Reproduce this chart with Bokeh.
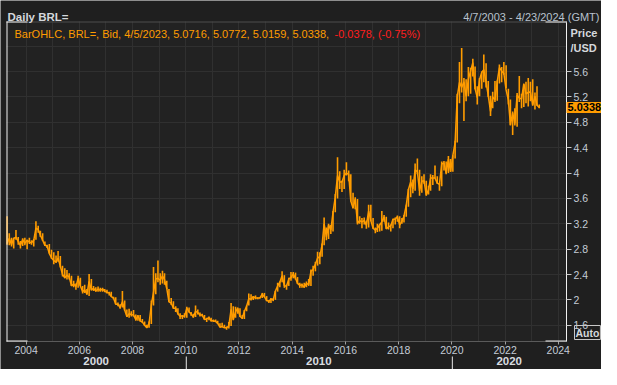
import numpy as np
import pandas as pd
from bokeh.plotting import figure
from bokeh.models import (Range1d, FixedTicker, DatetimeTickFormatter, Label, DatetimeAxis,
                          LinearAxis, BoxAnnotation, ColumnDataSource, CustomJSTickFormatter)
from bokeh.embed import file_html
from bokeh.resources import INLINE

# ---------------- data: monthly USD/BRL (Apr 2003 .. Apr 2023) ----------------
first_month = "2003-04-01"
month_high = [
    3.32, 3.05, 2.98, 2.98, 3.10, 2.99, 2.93, 2.97, 2.98,                      # 2003
    2.95, 2.98, 2.94, 2.96, 3.24, 3.17, 3.09, 3.05, 2.92, 2.87, 2.88, 2.79,    # 2004
    2.75, 2.70, 2.77, 2.69, 2.54, 2.50, 2.47, 2.42, 2.38, 2.30, 2.26, 2.38,    # 2005
    2.35, 2.22, 2.24, 2.17, 2.41, 2.33, 2.22, 2.20, 2.21, 2.19, 2.19, 2.17,    # 2006
    2.16, 2.13, 2.13, 2.05, 2.04, 1.96, 1.93, 2.14, 1.99, 1.85, 1.86, 1.82,    # 2007
    1.84, 1.77, 1.76, 1.76, 1.70, 1.66, 1.61, 1.66, 1.99, 2.52, 2.42, 2.62,    # 2008
    2.42, 2.46, 2.42, 2.30, 2.17, 2.03, 1.98, 1.90, 1.87, 1.79, 1.76, 1.79,    # 2009
    1.89, 1.88, 1.81, 1.78, 1.91, 1.85, 1.80, 1.78, 1.76, 1.72, 1.74, 1.72,    # 2010
    1.69, 1.69, 1.67, 1.63, 1.64, 1.61, 1.58, 1.65, 1.95, 1.90, 1.89, 1.88,    # 2011
    1.87, 1.76, 1.84, 1.91, 2.10, 2.09, 2.06, 2.07, 2.04, 2.04, 2.11, 2.11,    # 2012
    2.06, 1.99, 2.03, 2.03, 2.14, 2.27, 2.29, 2.45, 2.39, 2.24, 2.35, 2.44,    # 2013
    2.44, 2.43, 2.36, 2.27, 2.26, 2.27, 2.29, 2.33, 2.48, 2.54, 2.60, 2.76,    # 2014
    2.75, 2.89, 3.30, 3.14, 3.20, 3.18, 3.40, 3.67, 4.25, 4.03, 3.88, 4.05,    # 2015
    4.17, 4.04, 3.98, 3.69, 3.62, 3.59, 3.32, 3.29, 3.30, 3.25, 3.50, 3.50,    # 2016
    3.29, 3.14, 3.20, 3.20, 3.40, 3.34, 3.31, 3.22, 3.19, 3.28, 3.30, 3.33,    # 2017
    3.32, 3.29, 3.34, 3.50, 3.75, 3.96, 3.90, 4.15, 4.23, 4.05, 3.95, 3.98,    # 2018
    3.88, 3.80, 3.98, 3.97, 4.12, 3.95, 3.84, 4.18, 4.19, 4.18, 4.27, 4.22,    # 2019
    4.28, 4.51, 5.25, 5.75, 5.97, 5.50, 5.48, 5.67, 5.66, 5.80, 5.68, 5.37,    # 2020
    5.50, 5.60, 5.87, 5.73, 5.45, 5.22, 5.28, 5.45, 5.46, 5.71, 5.67, 5.75,    # 2021
    5.70, 5.33, 5.16, 4.97, 5.02, 5.26, 5.53, 5.25, 5.40, 5.44, 5.50, 5.44,    # 2022
    5.48, 5.27, 5.37, 5.08,                                                    # 2023
]
month_low = [
    2.87, 2.86, 2.84, 2.81, 2.95, 2.87, 2.81, 2.85, 2.86,
    2.80, 2.88, 2.87, 2.84, 2.95, 3.06, 2.99, 2.93, 2.85, 2.82, 2.73, 2.65,
    2.56, 2.58, 2.60, 2.51, 2.37, 2.34, 2.32, 2.32, 2.22, 2.20, 2.16, 2.19,
    2.22, 2.10, 2.11, 2.08, 2.06, 2.15, 2.14, 2.13, 2.13, 2.13, 2.13, 2.12,
    2.10, 2.07, 2.05, 2.01, 1.93, 1.90, 1.86, 1.88, 1.83, 1.73, 1.72, 1.74,
    1.74, 1.67, 1.67, 1.66, 1.64, 1.59, 1.56, 1.56, 1.62, 1.91, 2.09, 2.28,
    2.24, 2.26, 2.24, 2.17, 1.97, 1.92, 1.86, 1.81, 1.77, 1.70, 1.70, 1.72,
    1.72, 1.80, 1.75, 1.72, 1.73, 1.77, 1.74, 1.74, 1.69, 1.65, 1.68, 1.66,
    1.65, 1.65, 1.62, 1.57, 1.57, 1.56, 1.53, 1.55, 1.59, 1.68, 1.72, 1.78,
    1.73, 1.70, 1.70, 1.82, 1.91, 1.99, 2.00, 2.01, 2.01, 2.02, 2.03, 2.04,
    1.98, 1.95, 1.95, 1.98, 2.00, 2.13, 2.20, 2.28, 2.19, 2.16, 2.22, 2.30,
    2.34, 2.32, 2.25, 2.19, 2.19, 2.19, 2.20, 2.22, 2.22, 2.38, 2.45, 2.54,
    2.56, 2.68, 2.86, 2.94, 2.96, 3.04, 3.08, 3.38, 3.60, 3.75, 3.70, 3.75,
    3.96, 3.87, 3.55, 3.44, 3.43, 3.19, 3.20, 3.13, 3.19, 3.12, 3.14, 3.24,
    3.12, 3.05, 3.07, 3.08, 3.09, 3.23, 3.12, 3.11, 3.08, 3.13, 3.19, 3.23,
    3.13, 3.20, 3.22, 3.31, 3.47, 3.62, 3.68, 3.72, 3.98, 3.64, 3.69, 3.83,
    3.64, 3.66, 3.72, 3.81, 3.92, 3.83, 3.72, 3.79, 4.04, 3.98, 4.00, 4.02,
    4.02, 4.23, 4.48, 5.10, 5.27, 4.82, 5.13, 5.21, 5.25, 5.52, 5.32, 5.08,
    5.21, 5.33, 5.43, 5.35, 5.20, 4.90, 5.02, 5.12, 5.14, 5.41, 5.43, 5.55,
    5.34, 5.08, 4.75, 4.60, 4.75, 4.73, 5.12, 5.02, 5.04, 5.10, 5.05, 5.13,
    5.06, 5.00, 5.06, 5.02,
]
month_close = [
    2.89, 2.97, 2.87, 2.97, 2.99, 2.92, 2.86, 2.95, 2.89,
    2.94, 2.91, 2.90, 2.94, 3.13, 3.11, 3.02, 2.94, 2.86, 2.85, 2.73, 2.66,
    2.62, 2.60, 2.66, 2.53, 2.40, 2.35, 2.39, 2.36, 2.22, 2.25, 2.21, 2.34,
    2.22, 2.13, 2.16, 2.09, 2.29, 2.16, 2.18, 2.14, 2.17, 2.15, 2.17, 2.14,
    2.12, 2.11, 2.05, 2.03, 1.93, 1.93, 1.88, 1.97, 1.84, 1.74, 1.78, 1.77,
    1.76, 1.69, 1.75, 1.67, 1.65, 1.60, 1.56, 1.63, 1.92, 2.12, 2.33, 2.34,
    2.31, 2.38, 2.32, 2.18, 1.97, 1.95, 1.87, 1.87, 1.78, 1.74, 1.75, 1.74,
    1.87, 1.81, 1.78, 1.73, 1.82, 1.80, 1.76, 1.76, 1.69, 1.70, 1.72, 1.67,
    1.67, 1.66, 1.63, 1.57, 1.58, 1.56, 1.56, 1.59, 1.85, 1.69, 1.81, 1.87,
    1.74, 1.71, 1.82, 1.90, 2.02, 2.01, 2.05, 2.03, 2.03, 2.03, 2.09, 2.05,
    1.99, 1.98, 2.01, 2.00, 2.14, 2.22, 2.28, 2.38, 2.22, 2.22, 2.33, 2.35,
    2.41, 2.34, 2.26, 2.23, 2.24, 2.20, 2.26, 2.24, 2.45, 2.48, 2.56, 2.66,
    2.68, 2.87, 3.20, 2.99, 3.18, 3.10, 3.38, 3.62, 3.96, 3.86, 3.86, 3.96,
    4.00, 3.98, 3.56, 3.45, 3.59, 3.21, 3.25, 3.23, 3.25, 3.18, 3.40, 3.25,
    3.13, 3.10, 3.13, 3.18, 3.23, 3.31, 3.12, 3.15, 3.17, 3.27, 3.27, 3.31,
    3.18, 3.24, 3.32, 3.49, 3.74, 3.86, 3.75, 4.05, 4.02, 3.72, 3.87, 3.88,
    3.65, 3.74, 3.92, 3.92, 3.92, 3.84, 3.82, 4.14, 4.16, 4.00, 4.22, 4.02,
    4.28, 4.48, 5.20, 5.43, 5.35, 5.44, 5.21, 5.48, 5.61, 5.74, 5.33, 5.19,
    5.47, 5.59, 5.63, 5.43, 5.22, 4.97, 5.20, 5.15, 5.44, 5.66, 5.61, 5.57,
    5.31, 5.15, 4.76, 4.95, 4.78, 5.23, 5.18, 5.17, 5.41, 5.25, 5.27, 5.28,
    5.07, 5.21, 5.07, 5.0338,
]
last_price = 5.0338
legend_text = "BarOHLC, BRL=, Bid, 4/5/2023, 5.0716, 5.0772, 5.0159, 5.0338, "
legend_change = "-0.0378, (-0.75%)"
title_text = "Daily BRL="
range_text = "4/7/2003 - 4/23/2024 (GMT)"
unit_text = ["Price", "/USD"]
x_start, x_end = "2003-04-07", "2024-04-23"
y_low, y_high = 1.344, 6.389
x_tick_years = [2004, 2006, 2008, 2010, 2012, 2014, 2016, 2018, 2020, 2022, 2024]
grid_years = list(range(2004, 2025))
y_ticks = [1.6, 2.0, 2.4, 2.8, 3.2, 3.6, 4.0, 4.4, 4.8, 5.2, 5.6]
y_grid = y_ticks + [6.0]
decades = ["2000", "2010", "2020"]
decade_bounds = ["2003-04-07", "2010-01-01", "2020-01-01", "2024-04-23"]

# ---------------- layout / styling ----------------
ORANGE = "#ff9c00"
FONT = "Liberation Sans"
W, H = 601, 369
DL, DR, DT, DB = 6, 566, 21, 341        # data area inside canvas (px)
DEC_Y = 356                              # top of the decade row (px)
BG, PLOT_BG, GRID = "#1f1f1f", "#222222", "#303030"
TXT = "#c4ccd6"

def ms(s):
    return pd.Timestamp(s).value / 1e6

xs_ms, xe_ms = ms(x_start), ms(x_end)
ppx = (DR - DL) / (xe_ms - xs_ms)
upx = (y_high - y_low) / (DB - DT)
def y_at(cy):
    return y_high - (cy - DT) * upx

dates = pd.date_range(first_month, periods=len(month_close), freq="MS") + pd.Timedelta(days=14)
src = ColumnDataSource(dict(t=dates, hi=month_high, lo=month_low, c=month_close))

p = figure(width=W, height=H, x_axis_location=None, y_axis_location=None, title=None,
           x_range=Range1d(xs_ms - DL / ppx, xe_ms + (W - DR) / ppx),
           y_range=Range1d(y_low - (H - DB) * upx, y_high + DT * upx),
           toolbar_location=None, output_backend="svg",
           min_border=0, min_border_left=0, min_border_right=0,
           min_border_top=0, min_border_bottom=0)
p.background_fill_color = BG
p.border_fill_color = BG
p.outline_line_color = None

def cbox(l, r, t, b, color, level="overlay"):
    box = BoxAnnotation(left=l, right=r, top=t, bottom=b,
                        left_units="canvas", right_units="canvas",
                        top_units="canvas", bottom_units="canvas",
                        fill_color=color, fill_alpha=1, line_color=None, level=level)
    p.add_layout(box)
    return box

# plot-area background
cbox(DL, DR, DT, DB, PLOT_BG, level="image")

# grids
p.xgrid.ticker = FixedTicker(ticks=[ms(f"{y}-01-01") for y in grid_years])
p.ygrid.ticker = FixedTicker(ticks=y_grid)
p.xgrid.grid_line_color = GRID
p.ygrid.grid_line_color = GRID
try:
    p.xgrid.cross_bounds = (y_low, y_high)
    p.ygrid.cross_bounds = (xs_ms, xe_ms)
except Exception:
    cbox(0, W, 0, DT, BG, level="underlay")
    cbox(0, W, DB, H, BG, level="underlay")
    cbox(0, DL, 0, H, BG, level="underlay")
    cbox(DR, W, 0, H, BG, level="underlay")

# data
p.segment(x0="t", y0="lo", x1="t", y1="hi", source=src, line_color=ORANGE, line_width=1.6)
p.line(x="t", y="c", source=src, line_color=ORANGE, line_width=1.5)

# x axis (years)
xa = DatetimeAxis(fixed_location=y_low, bounds=(xs_ms, xe_ms))
xa.ticker = FixedTicker(ticks=[ms(f"{y}-01-01") for y in x_tick_years])
xa.formatter = DatetimeTickFormatter(years="%Y", months="%Y", days="%Y")
xa.axis_line_color = "#5a5a5a"
xa.major_tick_line_color = "#a0a0a0"
xa.major_tick_out = 3
xa.major_tick_in = 0
xa.minor_tick_line_color = None
xa.major_label_standoff = 1
xa.major_label_text_font = FONT
xa.major_label_text_font_size = "10.5px"
xa.major_label_text_color = TXT
p.add_layout(xa, "below")

# decade row
mids = [(ms(decade_bounds[i]) + ms(decade_bounds[i + 1])) / 2 for i in range(len(decades))]
sep_len = H - DEC_Y
da = LinearAxis(fixed_location=y_at(DEC_Y), bounds=(xs_ms, xe_ms))
da.ticker = FixedTicker(ticks=mids)
da.formatter = CustomJSTickFormatter(args=dict(labels=decades), code="return labels[index];")
da.axis_line_color = None
da.major_tick_line_color = None
da.major_tick_out = 0
da.major_tick_in = 0
da.minor_tick_line_color = None
da.minor_tick_out = 0
da.major_label_standoff = 0
da.major_label_text_font = FONT
da.major_label_text_font_size = "11.5px"
da.major_label_text_font_style = "bold"
da.major_label_text_color = "#d8dce0"
p.add_layout(da, "below")

# decade separators
for b in decade_bounds[1:-1]:
    p.add_layout(BoxAnnotation(left=ms(b), right=ms(b) + 1 / ppx, top=DEC_Y, bottom=H,
                               top_units="canvas", bottom_units="canvas",
                               fill_color="#e8e8e8", fill_alpha=1, line_color=None, level="overlay"))

# y axis (right)
ya = LinearAxis(fixed_location=xe_ms, bounds=(y_low, y_high))
ya.ticker = FixedTicker(ticks=y_ticks)
ya.formatter = CustomJSTickFormatter(code="return tick.toFixed(1).replace(/\\.0$/, '');")
ya.axis_line_color = "#f0f0f0"
ya.major_tick_line_color = "#c8c8c8"
ya.major_tick_out = 5
ya.major_tick_in = 0
ya.minor_tick_line_color = None
ya.major_label_standoff = 2
ya.major_label_text_font = FONT
ya.major_label_text_font_size = "10.5px"
ya.major_label_text_color = TXT
p.add_layout(ya, "right")

# frame lines
cbox(DL, DR, DT, DT + 1, "#4c4c4c")
cbox(DL, DL + 1, DT, DB, "#f0f0f0")
cbox(DL, DL + 21, DT, DT + 1, "#f0f0f0")
cbox(DR - 21, DR, DT, DT + 1, "#f0f0f0")
cbox(DL, DL + 21, DB - 1, DB, "#f0f0f0")
cbox(DR - 21, DR, DB - 1, DB, "#f0f0f0")

def clabel(text, x, y, color, bold=False, align="left", size="11px", baseline="alphabetic", **kw):
    lab = Label(x=x, y=y, x_units="canvas", y_units="canvas", text=text,
                text_font=FONT, text_font_size=size, text_color=color,
                text_font_style="bold" if bold else "normal",
                text_align=align, text_baseline=baseline, level="overlay", **kw)
    p.add_layout(lab)
    return lab

clabel(title_text, 7, 16.5, "#d4d8dc", bold=True, size="11.5px")
clabel(range_text, W - 2, 16, "#b8c2ce", align="right")
clabel(legend_text, 14, 33, ORANGE)
clabel(legend_change, 14 + 320, 33, "#ff1e1e")
clabel(unit_text[0], DR + 4, 32.5, "#d4d8dc", bold=True)
clabel(unit_text[1], DR + 4, 47, "#d4d8dc", bold=True)

# last price box on the axis
p.add_layout(BoxAnnotation(left=DR, right=W, top=last_price + 5.5 * upx, bottom=last_price - 5.5 * upx,
                           left_units="canvas", right_units="canvas",
                           fill_color=ORANGE, fill_alpha=1, line_color=None, level="annotation"))
p.add_layout(Label(x=DR + 1, y=last_price, x_units="canvas", y_units="data", text="%.4f" % last_price,
                   text_font=FONT, text_font_size="11px", text_font_style="bold",
                   text_color="#000000", text_baseline="middle", level="overlay"))

# Auto button (bordered label)
clabel("Auto", DR + 8, DB - 2, "#d4d8dc", bold=True, size="10.5px", baseline="bottom",
       border_line_color="#c8c8c8", border_line_width=1, padding=1)

open("out.html", "w").write(file_html(p, INLINE))
